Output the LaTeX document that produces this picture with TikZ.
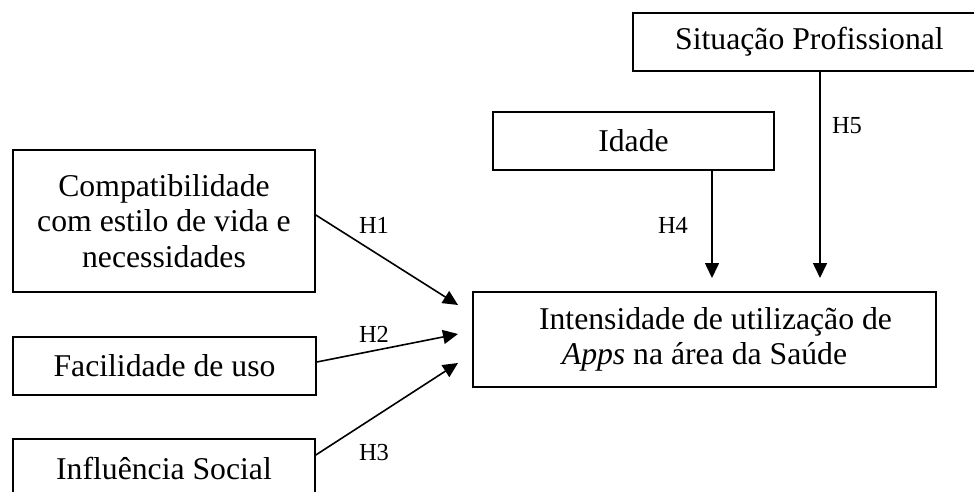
\documentclass[tikz,border=0pt]{standalone}
\usepackage{fontspec}
\setmainfont{Liberation Serif}
\usetikzlibrary{arrows.meta}
\begin{document}
\begin{tikzpicture}[x=1pt,y=-1pt,
  box/.style={draw,line width=1.6pt,inner sep=0pt,align=center,font=\fontsize{31.7}{35.5}\selectfont},
  lbl/.style={inner sep=0pt,font=\fontsize{24.5}{28}\selectfont},
  arr/.style={line width=1.6pt,-{Triangle[length=15pt,width=14pt]}}]
\clip (0,0) rectangle (974,492);
\fill[white] (0,0) rectangle (974,492);
\node[box,minimum width=302pt,minimum height=142pt] (c) at (164,221) {Compatibilidade\\com estilo de vida e\\necessidades};
\node[box,minimum width=303pt,minimum height=58pt] (f) at (164.5,366) {Facilidade de uso};
\node[box,minimum width=302pt,minimum height=58pt] (s) at (164,468) {Influência Social};
\node[box,minimum width=463pt,minimum height=95pt] (m) at (704.5,339.5) {\hspace*{22pt}Intensidade de utilização de\\\textit{Apps} na área da Saúde};
\node[box,minimum width=281pt,minimum height=58pt] (i) at (633.5,141) {Idade};
\node[box,minimum width=353pt,minimum height=58pt] (p) at (809.5,42) {Situação Profissional};
\coordinate (t1) at (458,305);
\coordinate (t2) at (458,334);
\coordinate (t3) at (458,363);
\coordinate (t4) at (712,278);
\coordinate (t5) at (820,278);
\draw[arr] ([yshift=6pt]c.east) -- (t1);
\draw[arr] ([yshift=4pt]f.east) -- (t2);
\draw[arr] ([yshift=13pt]s.east) -- (t3);
\draw[arr] (i.south -| t4) -- (t4);
\draw[arr] (p.south -| t5) -- (t5);
\node[lbl] (h1) at (374,225) {H1};
\node[lbl] (h2) at (374,334) {H2};
\node[lbl] (h3) at (374,453) {H3};
\node[lbl] (h4) at (673,225) {H4};
\node[lbl] (h5) at (847,126) {H5};
\end{tikzpicture}
\end{document}
